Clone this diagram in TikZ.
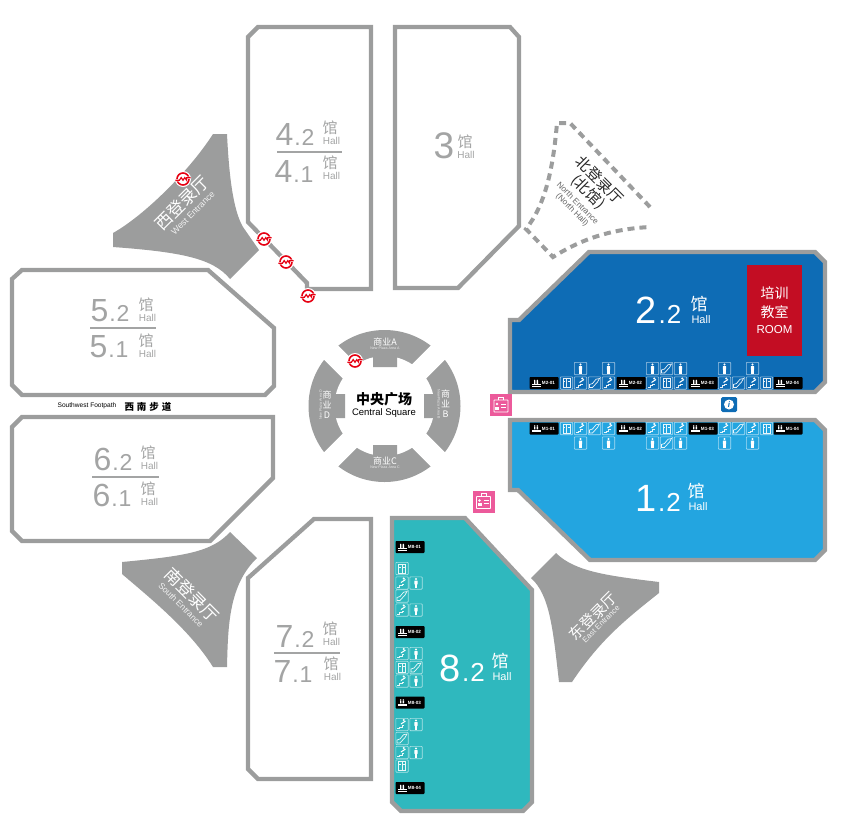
\documentclass[tikz,border=0pt]{standalone}
\usepackage{fontspec}
\setmainfont{Liberation Sans}
\newfontfamily\cjk{Noto Sans CJK SC}
\usetikzlibrary{positioning}
\definecolor{wallgray}{HTML}{9C9D9D}
\definecolor{textgray}{HTML}{A3A4A4}
\definecolor{deepblue}{HTML}{0E6CB5}
\definecolor{skyblue}{HTML}{23A5E0}
\definecolor{tealfill}{HTML}{2FB8BE}
\definecolor{roomred}{HTML}{C30D23}
\definecolor{metrored}{HTML}{E60012}
\definecolor{deskpink}{HTML}{EC5A9B}
\tikzset{
  hallbox/.style={draw=wallgray,line width=4.3pt,miter limit=4},
  hallline/.style={textgray,line width=1.3pt},
  bignum/.style={textgray,inner sep=0pt},
  hallcjk/.style={textgray,inner sep=0pt,font=\cjk\fontsize{15}{15}\selectfont},
  hallen/.style={textgray,inner sep=0pt,font=\fontsize{10}{10}\selectfont},
  colorcjk/.style={white,inner sep=0pt,font=\cjk\fontsize{17}{17}\selectfont},
  coloren/.style={white,inner sep=0pt,font=\fontsize{11}{11}\selectfont},
  gatecjk/.style={white,inner sep=0pt,font=\cjk\fontsize{#1}{#1}\selectfont},
  gateen/.style={white,opacity=.85,inner sep=0pt,font=\fontsize{#1}{#1}\selectfont},
  plazacjk/.style={white,inner sep=0pt,align=center,font=\cjk\fontsize{9}{10}\selectfont},
  plazaen/.style={white,opacity=.8,inner sep=0pt,font=\fontsize{3.6}{4}\selectfont},
  cellbox/.style={draw=white,draw opacity=.6,line width=.6pt,rounded corners=.8pt},
  cellline/.style={draw=white,draw opacity=.9,line width=.7pt},
  pics/lift/.style={code={
    \draw[cellbox] (-6.2,-6.2) rectangle (6.2,6.2);
    \draw[cellline] (-3.5,-4.5) rectangle (3.5,4.5) (0,-4.5) -- (0,4.5)
      (-3.5,-1.5) -- (-1.2,-1.5) (1.2,-1.5) -- (3.5,-1.5);
  }},
  pics/stair/.style={code={
    \draw[cellbox] (-6.2,-6.2) rectangle (6.2,6.2);
    \draw[cellline,line width=1pt] (-5,4) -- (-2.5,4) -- (-2.5,2.5) -- (0,2.5) -- (0,1) -- (2,1);
    \fill[white] (1.8,-4.5) circle (1.1);
    \draw[white,line width=1pt] (-1,-.5) -- (3.5,-3.5);
  }},
  pics/esc/.style={code={
    \draw[cellbox] (-6.2,-6.2) rectangle (6.2,6.2);
    \draw[cellline] (-5,4.5) -- (-2,4.5) -- (3,-1) -- (5,-4.5) -- (1.5,-3.8) -- (-2,.5) -- (-5,1.5) -- cycle;
  }},
  pics/person/.style={code={
    \draw[cellbox] (-6.2,-6.2) rectangle (6.2,6.2);
    \fill[white] (0,-4) circle (1.1);
    \fill[white,rounded corners=.6pt] (-1.7,-2.5) rectangle (1.7,1.5);
    \fill[white] (-1.1,1) rectangle (1.1,5);
  }},
  pics/exitbox/.style={code={
    \fill[black,rounded corners=.8pt] (-14.5,-6) rectangle (14.5,6);
    \draw[white,line width=.6pt] (-12,3) -- (-3.5,3) (-12,1.6) -- (-3.5,1.6);
    \fill[white] (-10,.8) rectangle (-8.7,-2) (-7.4,.8) rectangle (-6,-2);
    \fill[white] (-9.35,-2.6) circle (.8) (-6.7,-2.6) circle (.8);
    \node (-lab) [white,inner sep=0pt,font=\bfseries\fontsize{4.6}{5}\selectfont] at (4.5,.2) {#1};
  }},
  pics/metro/.style={code={
    \fill[white] (0,0) circle (8);
    \draw[metrored,line width=1.6pt] (0,0) circle (6);
    \fill[white] (-8,.2) rectangle (-4,2.4) (4,-2.4) rectangle (8,-.2);
    \draw[metrored,line width=1.2pt] (-7.6,1.2) -- (-3.6,1.2) -- (-1.8,-1.4) -- (0,1.2) -- (1.8,-1.4) -- (3.6,1.2) -- (3.6,-1.2) -- (7.6,-1.2);
  }},
  pics/desk/.style={code={
    \fill[deskpink] (-11,-11) rectangle (11,11);
    \draw[white,line width=.9pt,rounded corners=.5pt] (-7,-5) rectangle (7,7);
    \draw[white,line width=.9pt] (-2.5,-5) -- (-2.5,-8) -- (2.5,-8) -- (2.5,-5);
    \fill[white] (-4,-1) circle (1.4);
    \fill[white] (-6,4.5) rectangle (-2,1.5);
    \draw[white,line width=.8pt] (0,-1) -- (5,-1) (0,2) -- (5,2);
  }},
}
\newcommand{\bignumber}[2]{\fontsize{32}{32}\selectfont #1\kern1pt\fontsize{23}{23}\selectfont.\kern1pt#2}
\newcommand{\colornumber}[2]{\fontsize{38}{38}\selectfont #1\kern2pt\fontsize{26}{26}\selectfont.\kern1pt#2}
\begin{document}
\begin{tikzpicture}[x=1pt,y=-1pt]
  \useasboundingbox (0,0) rectangle (843,833);

  % halls
  \draw[hallbox] (248,37) -- (258,27) -- (371,27) -- (371,289) -- (307,289) -- (307,283) -- (248,222) -- cycle;
  \draw[hallbox] (395,27) -- (510,27) -- (519,37) -- (519,226) -- (458,288) -- (395,288) -- cycle;
  \draw[hallbox] (12,279) -- (22,270) -- (208,270) -- (274,328) -- (274,386) -- (265,395) -- (22,395) -- (12,385) -- cycle;
  \draw[hallbox] (12,427) -- (22,417) -- (273,417) -- (273,478) -- (210,541) -- (22,541) -- (12,531) -- cycle;
  \draw[hallbox] (248,578) -- (314,519) -- (371,519) -- (371,779) -- (258,779) -- (248,769) -- cycle;
  \draw[hallbox,fill=deepblue] (510,392) -- (510,320) -- (519,320) -- (589,252) -- (815,252) -- (825,262) -- (825,382) -- (815,392) -- cycle;
  \draw[hallbox,fill=skyblue] (510,420) -- (815,420) -- (825,430) -- (825,550) -- (815,560) -- (590,560) -- (518,490) -- (510,490) -- cycle;
  \draw[hallbox,fill=tealfill] (392,518) -- (465,518) -- (532,590) -- (532,802) -- (523,811) -- (401,811) -- (392,802) -- cycle;

  % entrances
  \fill[wallgray] (213,134) -- (227,134) .. controls (229,175) and (233,210) .. (243,227) -- (259,250) -- (230,279)
    .. controls (213,258) and (180,252) .. (113,247) -- (113,233) .. controls (145,215) and (190,170) .. (213,134) -- cycle;
  \fill[wallgray] (556,553) -- (531,578) .. controls (550,595) and (553,630) .. (559,682) -- (572,682)
    .. controls (600,640) and (625,620) .. (659,593) -- (659,582) .. controls (610,576) and (575,572) .. (556,553) -- cycle;
  \fill[wallgray] (122,562) -- (122,574) .. controls (150,598) and (190,630) .. (213,667) -- (227,667)
    .. controls (228,625) and (229,585) .. (257,558) -- (230,532) .. controls (212,552) and (185,556) .. (122,562) -- cycle;
  \draw[wallgray,line width=4pt,dash pattern=on 7pt off 5pt] (650,207) -- (570,123) -- (557,123)
    .. controls (553,170) and (545,205) .. (526,229) -- (553,257) .. controls (580,240) and (610,229) .. (650,227);

  \node (westcjk) [gatecjk=17,rotate=45] at (182,203) {西登录厅};
  \node (westen) [gateen=8.8,rotate=45] at (193,213) {West Entrance};
  \node (eastcjk) [gatecjk=15,rotate=45] at (593,616) {东登录厅};
  \node (easten) [gateen=7.8,rotate=45] at (601,624) {East Entrance};
  \node (southcjk) [gatecjk=17,rotate=-45] at (192,595) {南登录厅};
  \node (southen) [gateen=8.6,rotate=-45] at (181,605) {South Entrance};
  \node (northcjk) [gatecjk=15,black!85,rotate=-45] at (600,180) {北登录厅};
  \node (northcjkb) [gatecjk=15,black!85,rotate=-45] at (588,192) {(北馆)};
  \node (northen) [gateen=8.2,black!70,rotate=-45] at (578,203) {North Entrance};
  \node (northenb) [gateen=8.2,black!70,rotate=-45] at (572,210) {(North Hall)};

  % central square
  \fill[wallgray] (384.5,406) circle (76);
  \fill[white] (384.5,406) circle (50);
  \foreach \a in {45,135} {
    \fill[white,rotate around={\a:(384.5,406)}] (304,396) rectangle (465,416);
  }
  \fill[wallgray] (373,367) rectangle (397,352) (373,445) rectangle (397,460)
    (345,394) rectangle (330,418) (424,394) rectangle (439,418);
  \node (sqcjk) [inner sep=0pt,font=\cjk\bfseries\fontsize{14}{14}\selectfont] at (384,399) {中央广场};
  \node (sqen) [inner sep=0pt,font=\fontsize{9.5}{9.5}\selectfont] at (384,413.5) {Central Square};
  \node (plazaa) [plazacjk] at (385,342.5) {商业A};
  \node (plazaaen) [plazaen] at (385,348.5) {New Plaza Area A};
  \node (plazac) [plazacjk] at (385,461) {商业C};
  \node (plazacen) [plazaen] at (385,467.5) {New Plaza Area C};
  \node (plazad) [plazacjk] at (327,405) {商\\业\\D};
  \node (plazaden) [plazaen,rotate=90] at (320.5,405) {New Plaza Area D};
  \node (plazab) [plazacjk] at (445.5,404) {商\\业\\B};
  \node (plazaben) [plazaen,rotate=-90] at (439,404) {New Plaza Area B};

  % footpath
  \node (pathen) [inner sep=0pt,font=\fontsize{6.6}{7}\selectfont] at (87,406) {Southwest Footpath};
  \node (pathcjk) [inner sep=0pt,font=\cjk\bfseries\fontsize{9.5}{9.5}\selectfont] at (148,406.5) {西\kern3pt 南\kern3pt 步\kern3pt 道};

  % hall numbers
  \foreach \nm/\x/\y/\a/\b/\mx/\my in {h42/295/134/4/2/330/128, h41/294/171/4/1/330/163, h52/110/311/5/2/146/305,
      h51/109/347/5/1/146/341, h62/113/459/6/2/148/453, h61/112/495/6/1/148/489, h72/295/636/7/2/330/629, h71/293/671/7/1/331/664} {
    \node (\nm) [bignum] at (\x,\y) {\bignumber{\a}{\b}};
    \node (\nm m) [hallcjk] at (\mx,\my) {馆};
    \node (\nm e) [hallen,below=0pt of \nm m.center,anchor=center,yshift=-13pt,xshift=1.5pt] {Hall};
  }
  \draw[hallline] (277,152) -- (342,152);
  \draw[hallline] (90,328) -- (156,328);
  \draw[hallline] (92,477) -- (159,477);
  \draw[hallline] (274,653) -- (340,653);
  \node (h3) [bignum,font=\fontsize{37}{37}\selectfont] at (444,146) {3};
  \node (h3m) [hallcjk] at (465,142) {馆};
  \node (h3e) [hallen] at (466,155) {Hall};
  \foreach \nm/\x/\y/\mx/\my/\a in {h22/658.5/310/699/304/2, h12/658/498/696/491/1, h82/462/668/500/661/8} {
    \node (\nm) [white,inner sep=0pt] at (\x,\y) {\colornumber{\a}{2}};
    \node (\nm m) [colorcjk] at (\mx,\my) {馆};
    \node (\nm e) [coloren,below=0pt of \nm m.center,anchor=center,yshift=-15.5pt,xshift=2pt] {Hall};
  }

  % training room
  \fill[roomred] (747,265) rectangle (802,356);
  \node (room) [white,inner sep=0pt,align=center,font=\cjk\fontsize{14}{19}\selectfont] at (774.5,302.5) {培训\\教室};
  \node (roomen) [white,inner sep=0pt,font=\fontsize{11.5}{12}\selectfont,below=11pt of room.south,anchor=center] {ROOM};

  % exits and cells, halls 1 and 2
  \foreach \x/\lab in {544/M2-01,631/M2-02,703/M2-03,788/M2-04} \pic (\lab) at (\x,383) {exitbox=\lab};
  \foreach \x/\lab in {544/M1-01,631/M1-02,703/M1-03,788/M1-04} \pic (\lab) at (\x,428.5) {exitbox=\lab};
  \foreach \x/\kind in {566.5/lift,580.5/stair,594.5/esc,608.5/stair,652.5/stair,666.5/lift,680.5/stair,724.5/stair,738.5/esc,752.5/stair,766.5/lift} {
    \pic at (\x,383) {\kind};
    \pic at (\x,428.5) {\kind};
  }
  \foreach \x/\kind in {580.5/person,608.5/person,652.5/person,666.5/esc,680.5/person,724.5/person,752.5/person} {
    \pic at (\x,368.5) {\kind};
    \pic at (\x,443) {\kind};
  }

  % exits and cells, hall 8
  \foreach \y/\lab in {547/M8-01,632/M8-02,702.5/M8-03,788/M8-04} \pic (\lab) at (410,\y) {exitbox=\lab};
  \foreach \y/\kind in {568.5/lift,583/stair,596/esc,610/stair,653.5/stair,667.5/lift,681/stair,724.5/stair,738.5/esc,752.5/stair,766/lift}
    \pic at (402,\y) {\kind};
  \foreach \y/\kind in {583/person,610/person,653.5/person,667.5/esc,681/person,724.5/person,752.5/person}
    \pic at (416,\y) {\kind};

  % metro marks
  \foreach \x/\y in {183/179,264/239,286/262,308/296,355/361} \pic at (\x,\y) {metro};

  % service desks and information
  \pic at (501,405) {desk};
  \pic at (483.5,501.5) {desk};
  \fill[deepblue,rounded corners=1.5pt] (721,397) rectangle (737,412);
  \fill[white] (729,404.5) circle (5);
  \node (info) [deepblue,inner sep=0pt,font=\bfseries\itshape\fontsize{8}{8}\selectfont] at (729,404.5) {i};
\end{tikzpicture}
\end{document}
